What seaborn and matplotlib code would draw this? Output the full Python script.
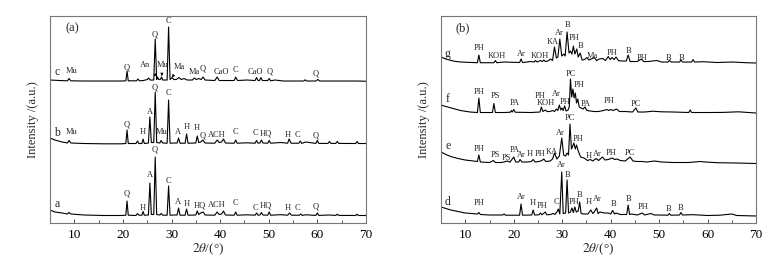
import matplotlib
matplotlib.use('Agg')
import pandas as pd
import matplotlib.pyplot as plt
from matplotlib.ticker import MultipleLocator
import seaborn as sns

sns.set_theme(style='white')
plt.rcParams['font.family'] = ['Liberation Serif', 'DejaVu Serif']
plt.rcParams['mathtext.fontset'] = 'stix'

# ---- panel (a): (2theta, intensity) vertices ----
trace_a = [(5, 13), (6, 11), (7.5, 10), (8.6, 9), (8.9, 10.5), (9.3, 9), (12, 8), (16, 7.5),
           (19.6, 7.5), (20.6, 7.8), (20.85, 22), (21.1, 7.8), (22.7, 7.5), (23.0, 9.5), (23.3, 7.8),
           (23.9, 7.8), (24.15, 11.5), (24.4, 7.8), (25.25, 8), (25.55, 40), (25.85, 8.5),
           (26.35, 8.5), (26.65, 66), (26.95, 8.5), (27.6, 8), (27.9, 9.5), (28.2, 7.8), (29.1, 7.8),
           (29.4, 37), (29.7, 7.8), (30.6, 8), (31.15, 8), (31.45, 15), (31.75, 7.8), (32.8, 7.8),
           (33.1, 14), (33.4, 7.8), (35.0, 8), (35.3, 12), (35.6, 8.5), (36.0, 10), (36.5, 11),
           (36.9, 8), (38.9, 7.8), (39.4, 11), (39.8, 8.5), (40.3, 9), (40.7, 12), (41.1, 8),
           (42.9, 7.8), (43.2, 11), (43.5, 7.8), (45.5, 8.2), (47.2, 7.8), (47.5, 10), (47.8, 7.8),
           (48.2, 8), (48.5, 10.5), (48.8, 8), (49.8, 7.8), (50.1, 11), (50.4, 7.8), (52.5, 8.3),
           (53.9, 7.8), (54.3, 10), (54.7, 7.8), (56.3, 7.8), (56.6, 9), (56.9, 7.6), (57.6, 8.2),
           (59.7, 7.6), (60.0, 10), (60.3, 7.6), (62.4, 8), (63.8, 7.6), (64.1, 8.8), (64.4, 7.6),
           (67.9, 7.5), (68.2, 8.8), (68.5, 7.5), (70, 7.5)]

trace_b = [(5, 85), (6, 83), (7.5, 81), (8.6, 80), (8.9, 82.5), (9.3, 80), (12, 79.5), (16, 79.2),
           (19.6, 79.2), (20.6, 79.5), (20.85, 93), (21.1, 79.5), (22.7, 79.5), (23.0, 82), (23.3, 79.5),
           (23.9, 79.5), (24.15, 84), (24.4, 79.5), (25.25, 80), (25.55, 106), (25.85, 80.5),
           (26.35, 80.5), (26.65, 131), (26.95, 80.5), (27.6, 80), (27.85, 82.5), (28.2, 80),
           (29.1, 79.8), (29.4, 123), (29.7, 79.8), (30.6, 80), (31.15, 80), (31.45, 85), (31.75, 79.8),
           (32.8, 79.8), (33.1, 89), (33.4, 79.8), (35.0, 80), (35.3, 87), (35.6, 80.5), (36.0, 81),
           (36.45, 83), (36.9, 80), (38.9, 79.8), (39.4, 83), (39.8, 80.5), (40.3, 81), (40.7, 84),
           (41.1, 80), (42.9, 79.8), (43.2, 83), (43.5, 79.8), (45.5, 80.2), (47.2, 79.8), (47.5, 82.5),
           (47.8, 79.8), (48.2, 80), (48.5, 83), (48.8, 80), (49.8, 79.8), (50.1, 82.5), (50.4, 79.8),
           (52.5, 80.5), (53.9, 79.8), (54.2, 84), (54.6, 79.8), (56.2, 79.8), (56.5, 82), (56.8, 79.6),
           (57.6, 81), (59.7, 79.6), (60.0, 82.5), (60.3, 79.6), (62.2, 79.6), (62.5, 81.5), (62.8, 79.6),
           (63.8, 79.6), (64.1, 81.5), (64.4, 79.6), (67.9, 79.5), (68.2, 81.5), (68.5, 79.5), (70, 79.5)]

trace_c = [(5, 143), (7, 142.5), (8.6, 142.2), (8.9, 144.5), (9.3, 142.2), (12, 142), (16, 142),
           (19.6, 142), (20.6, 142.2), (20.85, 152), (21.1, 142.2), (22.8, 142.2), (23.1, 144),
           (23.4, 142.2), (24.2, 142.5), (25.0, 143.5), (25.3, 145), (25.6, 143), (26.35, 143),
           (26.65, 184), (26.95, 143.5), (27.1, 146), (27.4, 143.5), (27.7, 143.5), (27.95, 146),
           (28.2, 143), (29.1, 143), (29.4, 196), (29.7, 143.5), (30.1, 145.5), (30.5, 143.5),
           (31.0, 143.5), (31.5, 145.5), (32.0, 143.5), (32.6, 144.5), (33.2, 143), (34.3, 143),
           (34.7, 145), (35.1, 143.5), (35.6, 144.5), (36.1, 143.5), (36.5, 146), (36.9, 143),
           (38.9, 142.5), (39.4, 146), (39.8, 142.5), (41.5, 142.5), (42.9, 142.5), (43.2, 146),
           (43.6, 142.5), (45.5, 143), (47.2, 142.5), (47.5, 145.5), (47.8, 142.5), (48.1, 142.5),
           (48.4, 145.5), (48.7, 142.5), (49.8, 142.5), (50.1, 144.5), (50.4, 142.2), (51.3, 143),
           (53, 142), (57.2, 142), (57.5, 143.2), (57.8, 142), (59.7, 142), (60.1, 143.5), (60.5, 142),
           (64, 142), (68, 142), (70, 141.8)]

# ---- panel (b) ----
trace_d = [(5, 16), (6, 14.5), (7, 13), (8.5, 11.5), (10, 10), (12.5, 9), (12.8, 10.5), (13.1, 8.5),
           (15, 8), (17.7, 8), (18.0, 9), (18.3, 7.8), (21.2, 7.8), (21.5, 19), (21.8, 7.8), (23.7, 8),
           (24.0, 13), (24.3, 8), (25.2, 8.2), (25.5, 10), (25.8, 8.2), (26.5, 11), (26.8, 8.2),
           (27.6, 8.5), (28.1, 9.5), (28.5, 8.5), (28.9, 11), (29.2, 14), (29.5, 9), (29.9, 51),
           (30.2, 9.5), (30.7, 10), (31.0, 43), (31.3, 10), (31.7, 11), (32.0, 15), (32.3, 10.5),
           (32.6, 16), (32.9, 11), (33.3, 12), (33.6, 21), (33.9, 9.5), (34.5, 9), (35.3, 9),
           (35.9, 13), (36.3, 9.5), (36.6, 11), (37.1, 15), (37.4, 9.5), (37.8, 11), (38.6, 10),
           (39.5, 10), (40.0, 9), (40.4, 12.5), (40.8, 9), (41.1, 10), (42.0, 8.5), (43.3, 8.5),
           (43.6, 18), (43.9, 8.5), (44.3, 9), (45.5, 8), (46.5, 10), (47.0, 8), (48.3, 9.5), (49.0, 8),
           (50, 8), (51.8, 7.8), (52.1, 9.5), (52.4, 7.8), (54.2, 8), (54.5, 10.5), (54.8, 8), (57, 8.3),
           (60, 7.5), (62.5, 7.8), (65, 9), (66, 7.5), (70, 7)]

trace_e = [(5, 71), (6, 68.5), (7, 66.5), (8.5, 64.5), (10, 63), (12.5, 61.5), (12.8, 68), (13.1, 61),
           (15, 60.5), (15.8, 62.5), (16.2, 60.5), (17.5, 60.5), (18.7, 62), (19.2, 60.8), (20.0, 66),
           (20.4, 61), (21.0, 61), (21.3, 63.5), (21.7, 61), (22.8, 61), (23.6, 61.5), (24.0, 63.5),
           (24.4, 61), (25.2, 61.5), (25.8, 62.5), (26.2, 64), (26.6, 61.5), (27.5, 62), (28.0, 64),
           (28.4, 70), (28.9, 64), (29.4, 67), (29.9, 85), (30.3, 68), (30.7, 67), (31.0, 70),
           (31.3, 68), (31.6, 99), (31.9, 74), (32.1, 76), (32.4, 80), (32.7, 74), (32.95, 78),
           (33.3, 72), (33.8, 66), (34.5, 65), (35.2, 62.5), (35.8, 63.5), (36.3, 62), (37.0, 64.5),
           (37.5, 62.5), (38.3, 66), (38.8, 63), (39.5, 63.5), (40.3, 65), (40.8, 63.5), (41.3, 64),
           (42.0, 62.5), (43.0, 62), (44.0, 66), (44.6, 62), (45.5, 61.5), (46.5, 61.5), (47.5, 61),
           (49.0, 62), (50.5, 61), (53.0, 60.5), (56, 60.5), (58.5, 61.5), (59.5, 61), (62, 60.3),
           (66, 60), (70, 59.5)]

trace_f = [(5, 118), (6, 116.5), (7.5, 114.5), (9, 112.5), (11, 111), (12.5, 110.5), (12.8, 125),
           (13.1, 110.5), (15.6, 110.5), (15.9, 119.5), (16.2, 110.5), (18, 110.5), (19.3, 110.8),
           (19.5, 112.5), (19.7, 111), (20.0, 113.5), (20.3, 110.8), (23.5, 110.5), (25.4, 111),
           (25.7, 116), (26.0, 111.5), (26.5, 113), (26.9, 111.5), (27.5, 111.5), (28.0, 112.5),
           (28.4, 111.5), (28.8, 114), (29.1, 112.5), (29.4, 118), (29.7, 113), (29.95, 115),
           (30.2, 112.5), (30.5, 117), (30.8, 112), (31.2, 113), (31.45, 116), (31.7, 144),
           (31.95, 126), (32.2, 134), (32.45, 125), (32.7, 130), (32.95, 120), (33.2, 124),
           (33.5, 116), (33.9, 115), (34.3, 114), (34.7, 116), (35.1, 112.5), (35.8, 112),
           (36.5, 111.5), (37.5, 111.5), (38.5, 112.5), (39.2, 113.5), (39.6, 112.5), (40.0, 113.5),
           (40.5, 112.5), (41.2, 114), (41.8, 111.5), (43.0, 111.5), (44.5, 111), (45.2, 115),
           (45.6, 111), (47, 111), (48.7, 111.8), (50.5, 111.2), (53, 111), (56.1, 110.5), (56.4, 113),
           (56.7, 110.5), (60, 110.5), (63, 110.6), (66.4, 111.2), (70, 110)]

trace_g = [(5, 166), (6, 164), (7.5, 162), (9, 161), (12.5, 160.3), (12.8, 168), (13.1, 160.3),
           (15.9, 160.3), (16.2, 162.5), (16.5, 160.3), (18, 161), (21.2, 160.5), (21.5, 164),
           (21.8, 160.5), (23.5, 161.5), (24.2, 161), (24.5, 162.5), (24.8, 161), (25.5, 162.5),
           (25.9, 161.5), (26.2, 163), (26.5, 161.5), (27.0, 162), (27.6, 164), (28.0, 162.5),
           (28.4, 176), (28.8, 165), (29.1, 166), (29.5, 184), (29.9, 167), (30.3, 169), (30.6, 167),
           (31.0, 191), (31.4, 170), (31.7, 172), (32.0, 169), (32.3, 177), (32.6, 169), (33.0, 174),
           (33.3, 166), (33.7, 170), (34.1, 163), (34.6, 163.5), (35.1, 165.5), (35.5, 163),
           (36.0, 164), (36.6, 165.5), (37.1, 162.5), (37.6, 164), (38.4, 164.5), (38.9, 162.5),
           (39.5, 166.5), (39.9, 163.5), (40.3, 165.5), (40.7, 163.5), (41.1, 166), (41.6, 162.5),
           (42.3, 162), (43.2, 162), (43.6, 168), (44.0, 161.5), (45.5, 161.5), (46.3, 164),
           (46.8, 161.5), (47.8, 161.5), (48.5, 162), (49.5, 162.5), (50.5, 161), (51.8, 161),
           (52.1, 162.5), (52.5, 161), (54.2, 161), (54.5, 163), (54.8, 161), (56.7, 161), (57.0, 163.5),
           (57.3, 161), (59, 161.3), (62, 160.5), (65, 161), (68, 160.3), (70, 160)]

# ---- peak labels (2theta, height, text) ----
labels_a = [(20.85, 30, 'Q'), (24.0, 15, 'H'), (25.5, 48, 'A'), (26.6, 74, 'Q'), (29.4, 42, 'C'),
            (31.4, 21, 'A'), (33.1, 19, 'H'), (35.8, 18, 'HQ'), (39.3, 18, 'ACH'), (43.2, 20, 'C'),
            (47.3, 15, 'C'), (49.4, 18, 'HQ'), (53.9, 15, 'H'), (56.0, 15, 'C'), (59.7, 17, 'Q')]
labels_b = [(9.4, 91, 'Mu'), (20.85, 99, 'Q'), (24.0, 91, 'H'), (25.5, 111, 'A'), (26.6, 136, 'Q'),
            (27.9, 91, 'Mu'), (29.4, 130, 'C'), (31.4, 91, 'A'), (33.1, 96, 'H'), (35.3, 95, 'H'),
            (36.4, 88, 'Q'), (39.3, 88, 'ACH'), (43.2, 91, 'C'), (47.3, 90, 'C'), (49.4, 90, 'HQ'),
            (53.9, 88, 'H'), (56.0, 88, 'C'), (59.7, 88, 'Q')]
labels_c = [(9.4, 152, 'Mu'), (20.85, 156, 'Q'), (26.6, 189, 'Q'), (29.4, 202, 'C'),
            (34.6, 151, 'Ma'), (36.5, 155, 'Q'), (40.3, 151, 'CaO'), (43.2, 153, 'C'),
            (47.3, 151, 'CaO'), (50.3, 152, 'Q'), (59.7, 150, 'Q')]
arrows_c = [(24.6, 158, 'An', 27.0, 146.5), (28.1, 158, 'Mu', 28.0, 147), (31.6, 156, 'Ma', 30.1, 145.5)]

labels_d = [(12.8, 20, 'PH'), (21.5, 26, 'Ar'), (23.9, 20, 'H'), (25.9, 17, 'PH'), (28.9, 21, 'C'),
            (29.9, 58, 'Ar'), (31.1, 48, 'B'), (32.4, 21, 'PH'), (33.6, 28, 'B'), (35.5, 21, 'H'),
            (37.2, 24, 'Ar'), (40.5, 19, 'B'), (43.6, 24, 'B'), (46.6, 16, 'PH'), (52.0, 14, 'B'),
            (54.5, 15, 'B')]
labels_e = [(12.8, 74, 'PH'), (16.2, 68, 'PS'), (18.5, 65, 'PS'), (20.1, 73, 'PA'), (21.6, 68, 'Ar'),
            (23.4, 69, 'H'), (25.4, 69, 'PH'), (27.8, 71, 'KA'), (29.6, 90, 'Ar'), (31.6, 105, 'PC'),
            (33.2, 84, 'PH'), (35.4, 67, 'H'), (37.3, 69, 'Ar'), (40.0, 70, 'PH'), (44.0, 70, 'PC')]
labels_f = [(12.8, 131, 'PH'), (16.2, 127, 'PS'), (20.2, 120, 'PA'), (25.4, 127, 'PH'),
            (26.6, 120, 'KOH'), (28.8, 129, 'Ar'), (30.5, 121, 'PH'), (31.8, 149, 'PC'),
            (33.4, 138, 'PH'), (34.8, 119, 'PA'), (39.6, 122, 'PH'), (45.3, 119, 'PC')]
labels_g = [(12.8, 175, 'PH'), (16.6, 167, 'KOH'), (21.5, 169, 'Ar'), (25.4, 167, 'KOH'),
            (28.0, 181, 'KA'), (29.5, 190, 'Ar'), (31.0, 198, 'B'), (32.5, 185, 'PH'),
            (33.8, 177, 'B'), (36.2, 167, 'Ma'), (40.3, 170, 'PH'), (43.6, 172, 'B'),
            (46.5, 165, 'PH'), (52.0, 165, 'B'), (54.7, 165, 'B')]

names_a = [(6.4, 19, 'a'), (6.4, 90, 'b'), (6.4, 151, 'c')]
names_b = [(6.4, 21, 'd'), (6.4, 77, 'e'), (6.4, 124, 'f'), (6.4, 169, 'g')]


def to_df(trace):
    return pd.DataFrame(trace, columns=['two_theta', 'intensity'])


def style_axes(ax, tag):
    ax.set_xlim(5, 70)
    ax.set_ylim(0, 207)
    ax.set_yticks([])
    ax.xaxis.set_major_locator(MultipleLocator(10))
    ax.xaxis.set_minor_locator(MultipleLocator(5))
    ax.tick_params(axis='x', which='both', direction='in', bottom=True, labelsize=9.5,
                   pad=4, colors='#333333', labelcolor='black')
    ax.tick_params(axis='x', which='major', length=3, width=0.6)
    ax.tick_params(axis='x', which='minor', length=2, width=0.6)
    for s in ax.spines.values():
        s.set_color('#777777')
        s.set_linewidth(0.8)
    ax.set_xlabel(r'$2\theta$/(°)', fontsize=9.5, labelpad=1)
    ax.set_ylabel('Intensity /(a.u.)', fontsize=9, labelpad=8)
    ax.text(9.5, 195, tag, fontsize=9, ha='center', va='center')


fig = plt.figure(figsize=(7.79, 2.65), dpi=100)
ax1 = fig.add_axes([0.0642, 0.1585, 0.4055, 0.781])
ax2 = fig.add_axes([0.5662, 0.1585, 0.4044, 0.781])

for tr in [trace_a, trace_b, trace_c]:
    sns.lineplot(data=to_df(tr), x='two_theta', y='intensity', ax=ax1, color='black',
                 linewidth=0.8, estimator=None, sort=False)
for tr in [trace_d, trace_e, trace_f, trace_g]:
    sns.lineplot(data=to_df(tr), x='two_theta', y='intensity', ax=ax2, color='black',
                 linewidth=0.8, estimator=None, sort=False)

for ax, groups, names in [(ax1, [labels_a, labels_b, labels_c], names_a),
                          (ax2, [labels_d, labels_e, labels_f, labels_g], names_b)]:
    for lab in groups:
        for x, y, t in lab:
            ax.text(x, y, t, fontsize=6, ha='center', va='center')
    for x, y, t in names:
        ax.text(x, y, t, fontsize=8.5, ha='center', va='center')

for x, y, t, tx, ty in arrows_c:
    ax1.annotate(t, xy=(tx, ty), xytext=(x, y), fontsize=6, ha='center', va='center',
                 arrowprops=dict(arrowstyle='-|>', color='black', lw=0.5,
                                 mutation_scale=4, shrinkA=2, shrinkB=0))

style_axes(ax1, '(a)')
style_axes(ax2, '(b)')

fig.savefig('out.png', dpi=100)
